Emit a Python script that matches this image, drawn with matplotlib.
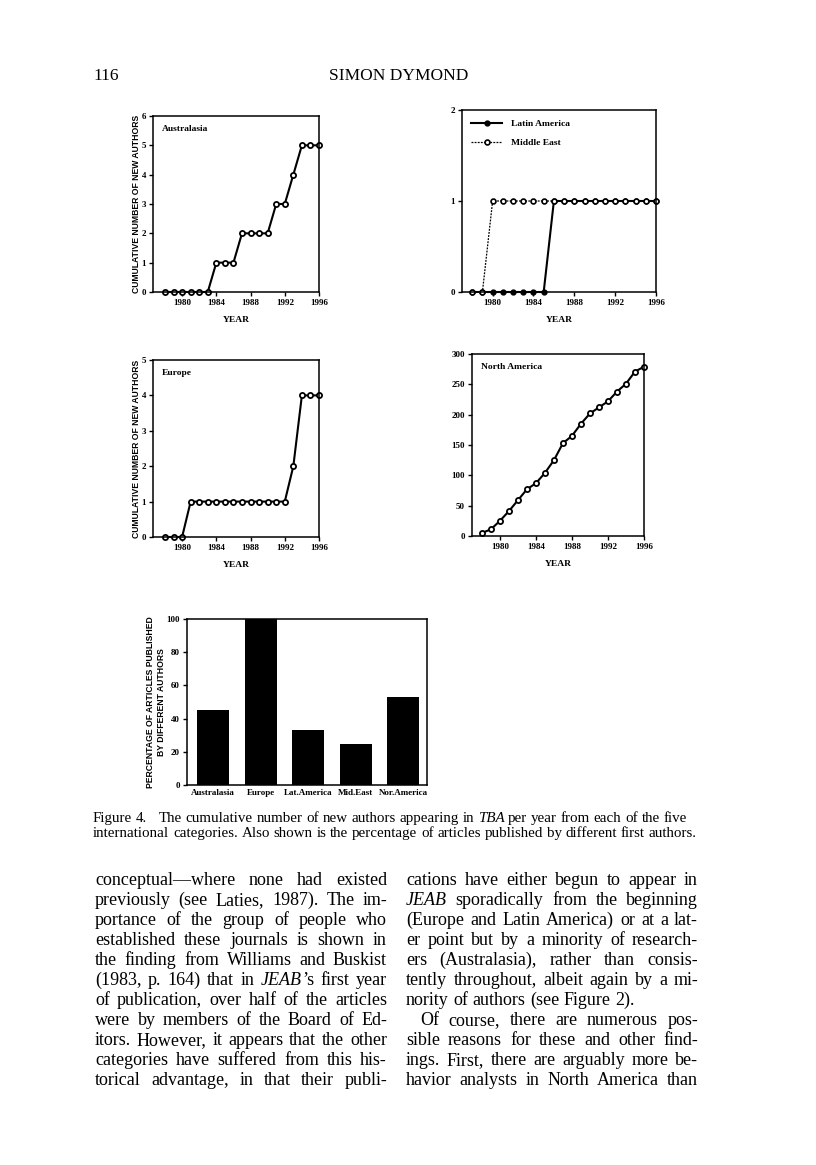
import re
import matplotlib
matplotlib.use("Agg")
import matplotlib.pyplot as plt

# page size in pixels (dpi 100)
W, H = 816, 1165
SERIF = "Liberation Serif"
SANS = "Liberation Sans"

# ---- data ----
years = [1978, 1979, 1980, 1981, 1982, 1983, 1984, 1985, 1986, 1987,
         1988, 1989, 1990, 1991, 1992, 1993, 1994, 1995, 1996]
year_ticks = [1980, 1984, 1988, 1992, 1996]

australasia = [0, 0, 0, 0, 0, 0, 1, 1, 1, 2, 2, 2, 2, 3, 3, 4, 5, 5, 5]
europe = [0, 0, 0, 1, 1, 1, 1, 1, 1, 1, 1, 1, 1, 1, 1, 2, 4, 4, 4]
latin_america = [0, 0, 0, 0, 0, 0, 0, 0, 1, 1, 1, 1, 1, 1, 1, 1, 1, 1, 1]
middle_east = [0, 0, 1, 1, 1, 1, 1, 1, 1, 1, 1, 1, 1, 1, 1, 1, 1, 1, 1]
north_america = [5, 11, 25, 41, 59, 77, 87, 104, 125, 153,
                 165, 185, 202, 212, 222, 238, 251, 271, 279]

regions = ["Australasia", "Europe", "Lat.America", "Mid.East", "Nor.America"]
pct_different = [45, 100, 33, 25, 53]

left_col = [
    "conceptual—where none had existed",
    "previously (see Laties, 1987). The im-",
    "portance of the group of people who",
    "established these journals is shown in",
    "the finding from Williams and Buskist",
    "(1983, p. 164) that in *JEAB*’s first year",
    "of publication, over half of the articles",
    "were by members of the Board of Ed-",
    "itors. However, it appears that the other",
    "categories have suffered from this his-",
    "torical advantage, in that their publi-",
]
right_col = [
    "cations have either begun to appear in",
    "*JEAB* sporadically from the beginning",
    "(Europe and Latin America) or at a lat-",
    "er point but by a minority of research-",
    "ers (Australasia), rather than consis-",
    "tently throughout, albeit again by a mi-",
    "nority of authors (see Figure 2).",
    "Of course, there are numerous pos-",
    "sible reasons for these and other find-",
    "ings. First, there are arguably more be-",
    "havior analysts in North America than",
]
caption = [
    "Figure 4.   The cumulative number of new authors appearing in *TBA* per year from each of the five",
    "international categories. Also shown is the percentage of articles published by different first authors.",
]

plt.rcParams["font.family"] = SERIF
plt.rcParams["font.weight"] = "bold"

fig = plt.figure(figsize=(W / 100, H / 100), dpi=100)
fig.patch.set_facecolor("white")


def add_ax(left, top, right, bottom):
    return fig.add_axes([left / W, 1 - bottom / H, (right - left) / W, (bottom - top) / H])


def style(ax, size=6.5):
    for s in ax.spines.values():
        s.set_linewidth(1.1)
    ax.tick_params(direction="out", length=3, width=1, pad=2, labelsize=size)


def cum_panel(box, xlim, ylim, yticks, label=None, ylabel=True):
    ax = add_ax(*box)
    style(ax)
    ax.set_xlim(*xlim)
    ax.set_ylim(*ylim)
    ax.set_xticks(year_ticks)
    ax.set_yticks(yticks)
    h = box[3] - box[1]
    w = box[2] - box[0]
    if ylabel:
        ax.set_ylabel("CUMULATIVE NUMBER OF NEW AUTHORS", family=SANS,
                      weight="bold", fontsize=6.2)
        ax.yaxis.set_label_coords(-12 / w, 0.5)
    ax.text(0.5, -28 / h, "YEAR", transform=ax.transAxes, ha="center",
            va="center", fontsize=6.8, weight="bold")
    if label:
        ax.text(9 / w, 1 - 13 / h, label, transform=ax.transAxes,
                ha="left", va="center", fontsize=6.8, weight="bold")
    return ax


mk = dict(marker="o", markersize=3.7, markerfacecolor="white",
          markeredgecolor="black", markeredgewidth=1.3, clip_on=False)

# top left: Australasia
ax1 = cum_panel((153, 116, 319, 292), (1976.6, 1996), (0, 6), range(0, 7), "Australasia")
ax1.plot(years, australasia, color="black", lw=1.5, **mk)

# top right: Latin America / Middle East
ax2 = cum_panel((462, 110, 656, 292), (1977, 1996), (0, 2), [0, 1, 2], ylabel=False)
ax2.plot(years, latin_america, color="black", lw=1.5, marker="o", markersize=3.5,
         markerfacecolor="black", markeredgecolor="black", clip_on=False,
         label="Latin America")
ax2.plot(years, middle_east, color="black", lw=0.9, ls=(0, (1.5, 1)), marker="o",
         markersize=3.5, markerfacecolor="white", markeredgecolor="black",
         markeredgewidth=1.2, clip_on=False, label="Middle East")
leg = ax2.legend(loc="upper left", frameon=False, fontsize=6.8, handlelength=3.2,
                 handletextpad=1.0, labelspacing=1.1, borderaxespad=0.6)
for t in leg.get_texts():
    t.set_fontweight("bold")

# bottom left: Europe
ax3 = cum_panel((153, 360, 319, 537), (1976.6, 1996), (0, 5), range(0, 6), "Europe")
ax3.plot(years, europe, color="black", lw=1.5, **mk)

# bottom right: North America
ax4 = cum_panel((472, 354, 644, 536), (1976.9, 1996), (0, 300), range(0, 301, 50),
                "North America", ylabel=False)
ax4.plot(years, north_america, color="black", lw=1.5, **mk)

# bar chart
ax5 = add_ax(187, 619, 427, 785)
style(ax5)
ax5.bar(range(len(regions)), pct_different, width=0.68, color="black")
ax5.set_xlim(-0.55, 4.5)
ax5.set_ylim(0, 100)
ax5.set_yticks(range(0, 101, 20))
ax5.set_xticks(range(len(regions)))
ax5.set_xticklabels(regions)
ax5.tick_params(axis="x", length=0, pad=3)
ax5.set_ylabel("PERCENTAGE OF ARTICLES PUBLISHED\nBY DIFFERENT AUTHORS", family=SANS,
               weight="bold", fontsize=6.2, linespacing=1.35)
ax5.yaxis.set_label_coords(-21 / 240, 0.5)

# ---- page text ----
renderer = fig.canvas.get_renderer()


def split_word(word):
    parts = []
    for p in re.split(r"(\*[^*]+\*)", word):
        if not p:
            continue
        if p.startswith("*"):
            parts.append((p.strip("*"), "italic"))
        else:
            parts.append((p, "normal"))
    return parts


def text_line(line, x0, x1, base, size, justify=True):
    kw = dict(fontsize=size, family=SERIF, weight="normal", va="baseline", ha="left")
    a = fig.text(0, 0, "a a", **kw)
    b = fig.text(0, 0, "aa", **kw)
    space = a.get_window_extent(renderer).width - b.get_window_extent(renderer).width
    a.remove()
    b.remove()
    words = []
    for word in line.split(" "):
        if word == "":
            words.append([])
            continue
        items = []
        for txt, st in split_word(word):
            t = fig.text(0, 0, txt, style=st, **kw)
            items.append((t, t.get_window_extent(renderer).width))
        words.append(items)
    total = sum(wd for items in words for _, wd in items)
    n_gaps = len(words) - 1
    gap = space
    if justify and n_gaps > 0:
        gap = (x1 - x0 - total) / n_gaps
    x = x0
    for items in words:
        for t, wd in items:
            t.set_position((x / W, 1 - base / H))
            x += wd
        x += gap


# header
fig.text(93 / W, 1 - 80 / H, "116", fontsize=12.5, family=SERIF, weight="normal",
         va="baseline", ha="left")
fig.text(399 / W, 1 - 80 / H, "SIMON DYMOND", fontsize=12.5, family=SERIF,
         weight="normal", va="baseline", ha="center")

# caption
text_line(caption[0], 93, 700, 822, 10.8, justify=False)
text_line(caption[1], 93, 700, 837, 10.8, justify=False)

# body, two justified columns
base0, step, body = 885, 20.0, 13.0
for i, line in enumerate(left_col):
    text_line(line, 95, 387, base0 + i * step, body)
for i, line in enumerate(right_col):
    if i == 6:
        text_line(line, 406, 698, base0 + i * step, body, justify=False)
    elif i == 7:
        text_line(line, 420, 698, base0 + i * step, body)
    else:
        text_line(line, 406, 698, base0 + i * step, body)

fig.savefig("out.png", dpi=100, facecolor="white")
